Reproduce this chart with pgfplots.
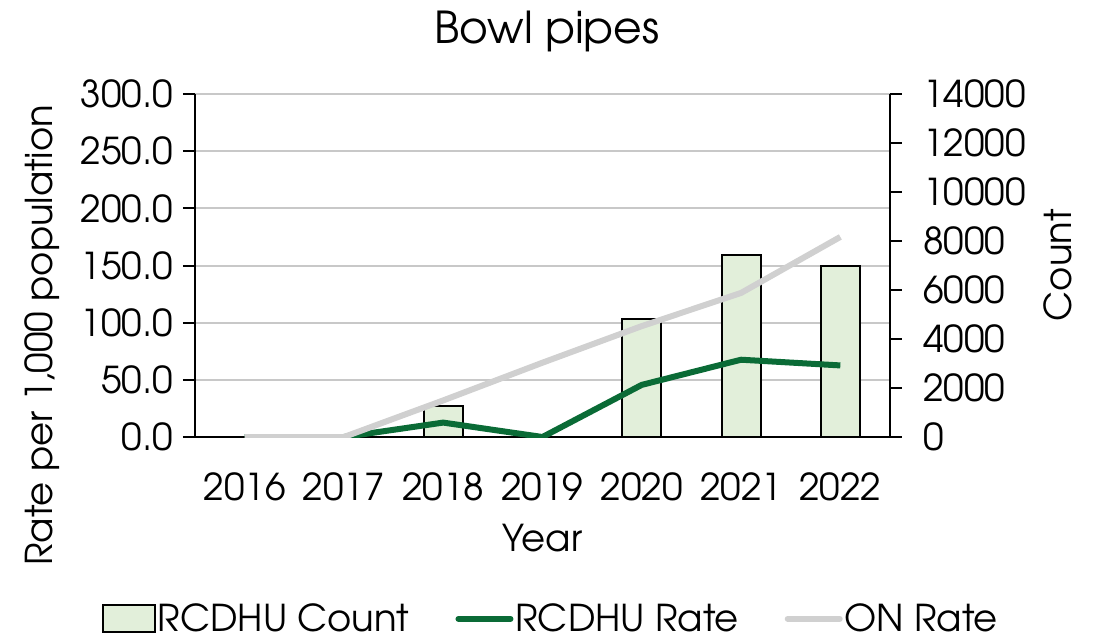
\documentclass[border=0pt]{standalone}
\usepackage{fontspec}
\setmainfont{TeX Gyre Adventor}
\usepackage{pgfplots}
\usepackage{pgfplotstable}
\pgfplotsset{compat=1.18}

\definecolor{barfill}{HTML}{E2EFDA}
\definecolor{rcdhugreen}{HTML}{0A6B36}
\definecolor{onrate}{HTML}{D0D0D0}
\definecolor{gridgray}{HTML}{C8C8C8}

% year, RCDHU count, RCDHU rate and ON rate (per 1,000 population)
\pgfplotstableread{
x year count rcdhu on
0 2016 0    0    0
1 2017 0    0    0
2 2018 1280 12.6 32
3 2019 0    0    65
4 2020 4830 45.6 97
5 2021 7410 67.6 126
6 2022 6970 62.6 175
}\bowldata

\newcommand{\lblfont}{\fontsize{18.5}{22}\selectfont}

\pgfplotsset{
  common/.style={
    scale only axis, width=347.5pt, height=171.5pt,
    xmin=-0.5, xmax=6.5,
    tick align=outside, major tick length=6pt,
    axis line style={line width=1pt, black},
    tick style={line width=1pt, black},
    tick label style={font=\lblfont},
    label style={font=\lblfont},
  },
}

\begin{document}
\begin{tikzpicture}
\useasboundingbox (-97.5pt,-100.5pt) rectangle (452pt,218.5pt);

% left rate axis with the grid, year labels and titles
\begin{axis}[common,
  ymin=0, ymax=300, ytick={0,50,...,300},
  axis y line*=left, axis x line*=bottom,
  ymajorgrids, grid style={gridgray, line width=1pt},
  xtick={0,...,6},
  xticklabels={2016,2017,2018,2019,2020,2021,2022},
  x tick style={draw=none},
  xticklabel style={anchor=center, yshift=-19pt},
  yticklabel style={xshift=-1.5pt, /pgf/number format/fixed, /pgf/number format/fixed zerofill,
    /pgf/number format/precision=1, /pgf/number format/assume math mode=true},
  xlabel={Year},
  xlabel style={at={(axis description cs:0.5,-0.2945)}, anchor=center},
  ylabel={Rate per 1,000 population},
  ylabel style={at={(axis description cs:-0.2201,0.297)}, anchor=center},
  title={Bowl pipes},
  every axis title shift=0pt,
  title style={at={(axis description cs:0.5065,1.1487)}, anchor=base, font=\fontsize{22}{26}\selectfont},
]
\end{axis}

% right count axis with the bars
\begin{axis}[common,
  ymin=0, ymax=14000, ytick={0,2000,...,14000},
  scaled y ticks=false,
  axis y line*=right, axis x line=none,
  yticklabel style={xshift=7pt, /pgf/number format/1000 sep={}, /pgf/number format/assume math mode=true},
  ylabel={Count},
  ylabel style={at={(axis description cs:1.2417,0.501)}, anchor=center},
]
\addplot[ybar, bar width=19.5pt, fill=barfill, draw=black, line width=1pt]
  table[x=x, y=count] {\bowldata};
\end{axis}

% rate lines drawn over the bars
\begin{axis}[common,
  ymin=0, ymax=300, hide axis,
  legend columns=3,
  legend style={draw=none, fill=none, font=\lblfont,
    at={(0.512,-0.530)}, anchor=center,
    nodes={inner xsep=1pt},
    /tikz/every odd column/.append style={column sep=0pt},
    /tikz/column 2/.style={column sep=22pt},
    /tikz/column 4/.style={column sep=22pt}},
]
\addlegendimage{legend image code/.code={\draw[fill=barfill, draw=black, line width=1pt] (0pt,-6.75pt) rectangle (26pt,6.75pt);}}
\addlegendentry{RCDHU Count}
\addplot[rcdhugreen, line width=3pt, line join=round,
  legend image code/.code={\draw[rcdhugreen, line width=3pt, line cap=round] (1pt,0pt) -- (27pt,0pt);}]
  table[x=x, y=rcdhu] {\bowldata};
\addlegendentry{RCDHU Rate}
\addplot[onrate, line width=3pt, line join=round,
  legend image code/.code={\draw[onrate, line width=3pt, line cap=round] (1pt,0pt) -- (27pt,0pt);}]
  table[x=x, y=on] {\bowldata};
\addlegendentry{ON Rate}
\end{axis}
\end{tikzpicture}
\end{document}
